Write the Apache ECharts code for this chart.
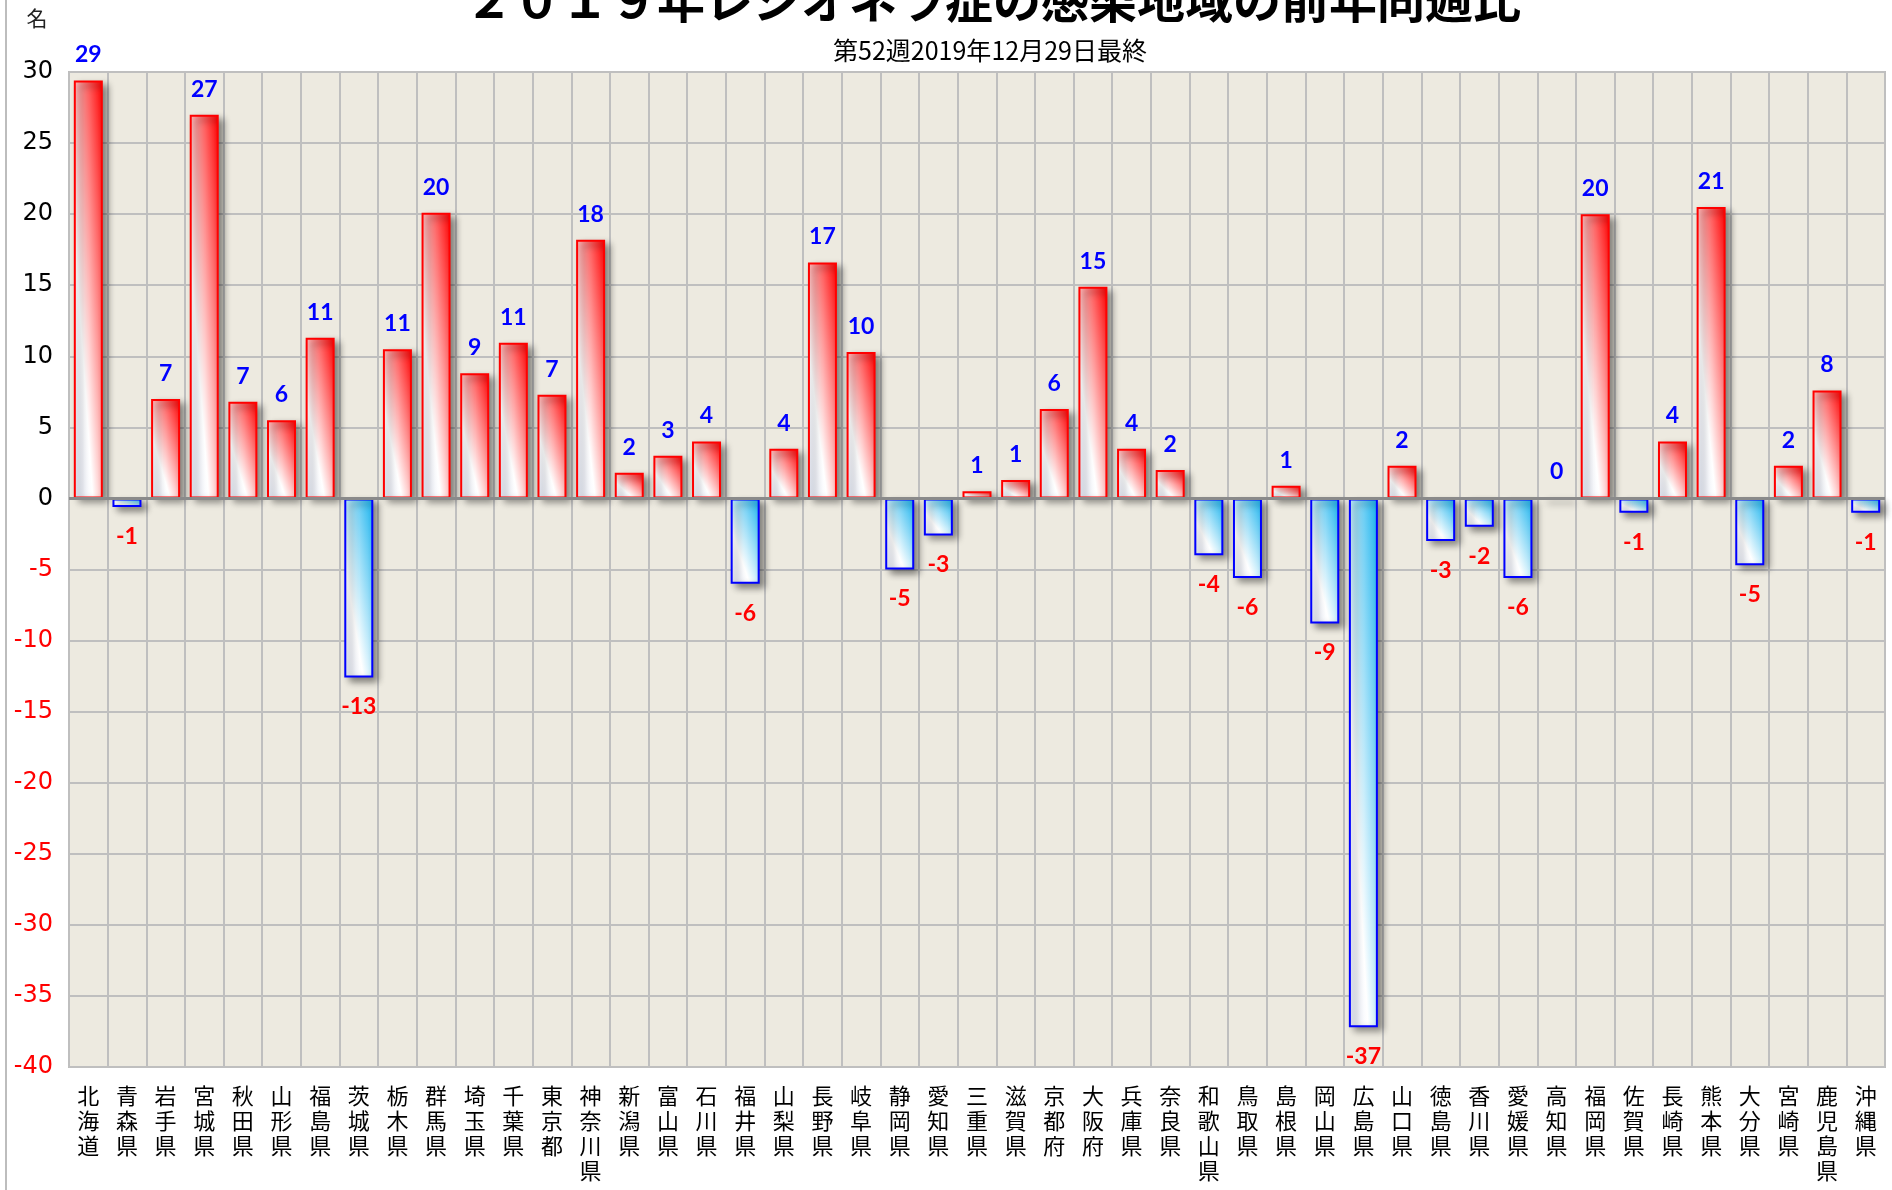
<!DOCTYPE html>
<html>
<head>
<meta charset="utf-8">
<script src="https://cdn.jsdelivr.net/npm/echarts@6/dist/echarts.min.js"></script>
<style>
    html, body { margin: 0; padding: 0; background: #fff; }
    #chart { width: 1892px; height: 1190px; }
</style>
</head>
<body>
<div id="chart"></div>
<script>
var titleText = '２０１９年レジオネラ症の感染地域の前年同週比';
var subText = '第52週2019年12月29日最終';

var prefectures = ['北海道', '青森県', '岩手県', '宮城県', '秋田県', '山形県', '福島県', '茨城県',
    '栃木県', '群馬県', '埼玉県', '千葉県', '東京都', '神奈川県', '新潟県', '富山県', '石川県',
    '福井県', '山梨県', '長野県', '岐阜県', '静岡県', '愛知県', '三重県', '滋賀県', '京都府',
    '大阪府', '兵庫県', '奈良県', '和歌山県', '鳥取県', '島根県', '岡山県', '広島県', '山口県',
    '徳島県', '香川県', '愛媛県', '高知県', '福岡県', '佐賀県', '長崎県', '熊本県', '大分県',
    '宮崎県', '鹿児島県', '沖縄県'];

// 前年同週との差 (名)
var diffValues = [29.4, -0.6, 7.0, 27.0, 6.8, 5.5, 11.3, -12.6,
    10.5, 20.1, 8.8, 10.95, 7.3, 18.2, 1.8, 3.0, 4.0,
    -6.0, 3.5, 16.6, 10.3, -5.0, -2.6, 0.5, 1.3, 6.3,
    14.9, 3.5, 2.0, -4.0, -5.6, 0.9, -8.8, -37.2, 2.3,
    -3.0, -2.0, -5.6, 0, 20.0, -1.0, 4.0, 20.5, -4.7,
    2.3, 7.6, -1.0];

var yMin = -40;
var yMax = 30;
var yStep = 5;

var gridTop = 72;
var gridBottom = 123;
var barW = 29;
var pxPerUnit = (1190 - gridTop - gridBottom) / (yMax - yMin);

// diagonal gradient that stretches with the bar, like the spreadsheet fill
function barFill(v, color) {
    var h = Math.abs(v) * pxPerUnit;
    var x2 = 1, y2 = 0;
    if (h > 0) {
        x2 = 2 * h * h / (h * h + barW * barW);
        y2 = 1 - 2 * barW * barW / (h * h + barW * barW);
    }
    return new echarts.graphic.LinearGradient(0, 1, x2, y2, [
        { offset: 0, color: '#e4e9f8' },
        { offset: 0.33, color: '#ffffff' },
        { offset: 1, color: color }
    ]);
}

function buildData() {
    return diffValues.map(function (v) {
        var pos = v >= 0;
        return {
            value: v,
            itemStyle: {
                color: barFill(v, pos ? '#ff0000' : '#16b2ee'),
                borderColor: pos ? '#ff0000' : '#0000ff',
                borderWidth: 2
            },
            label: {
                color: pos ? '#0000ff' : '#ff0000',
                position: pos ? 'top' : 'bottom',
                distance: pos ? 14 : 18
            }
        };
    });
}

function setBarOption() {
    return {
        animation: false,
        backgroundColor: '#ffffff',
        graphic: [
            {
                type: 'line',
                shape: { x1: 6, y1: 0, x2: 6, y2: 1190 },
                style: { stroke: '#bdbdbd', lineWidth: 2 }
            },
            {
                type: 'text',
                x: 993,
                y: 0,
                style: {
                    text: titleText,
                    font: 'bold 48px "Noto Sans CJK JP"',
                    fill: '#000',
                    align: 'center', verticalAlign: 'middle',
                    textAlign: 'center', textVerticalAlign: 'middle'
                }
            },
            {
                type: 'text',
                x: 990,
                y: 50,
                style: {
                    text: subText,
                    font: '25px "Noto Sans CJK JP"',
                    fill: '#000',
                    align: 'center', verticalAlign: 'middle',
                    textAlign: 'center', textVerticalAlign: 'middle'
                }
            },
            {
                type: 'text',
                x: 37,
                y: 18,
                style: {
                    text: '名',
                    font: '21px "Noto Sans CJK JP"',
                    fill: '#222',
                    align: 'center', verticalAlign: 'middle',
                    textAlign: 'center', textVerticalAlign: 'middle'
                }
            }
        ],
        grid: {
            left: 69,
            right: 7,
            top: gridTop,
            bottom: gridBottom,
            show: true,
            backgroundColor: '#edeae0',
            borderColor: '#bcbcbc',
            borderWidth: 2
        },
        xAxis: {
            type: 'category',
            data: prefectures,
            axisLine: { show: false, onZero: false },
            axisTick: { show: false },
            splitLine: {
                show: true,
                interval: 0,
                lineStyle: { color: '#bfbfbf', width: 2 }
            },
            axisLabel: {
                interval: 0,
                margin: 16,
                color: '#000',
                fontFamily: 'Noto Sans CJK JP',
                fontSize: 22,
                lineHeight: 25,
                verticalAlign: 'top',
                formatter: function (name) {
                    return name.split('').join('\n');
                }
            }
        },
        yAxis: {
            type: 'value',
            min: yMin,
            max: yMax,
            interval: yStep,
            axisLine: { show: false },
            axisTick: { show: false },
            splitLine: {
                lineStyle: { color: '#bfbfbf', width: 2 }
            },
            axisLabel: {
                margin: 16,
                fontFamily: 'DejaVu Sans',
                fontSize: 24,
                color: function (v) {
                    return Number(v) < 0 ? '#ff0000' : '#000000';
                }
            }
        },
        series: [
            {
                type: 'bar',
                barWidth: barW,
                data: buildData(),
                itemStyle: {
                    shadowBlur: 7,
                    shadowOffsetX: 5,
                    shadowOffsetY: 4,
                    shadowColor: 'rgba(0, 0, 0, 0.45)'
                },
                label: {
                    show: true,
                    fontFamily: 'Lato',
                    fontWeight: 'bold',
                    fontSize: 23,
                    formatter: function (p) {
                        return String(Math.round(p.value));
                    }
                },
                markLine: {
                    silent: true,
                    symbol: 'none',
                    label: { show: false },
                    lineStyle: { color: '#8a8a8a', width: 3, type: 'solid' },
                    data: [{ yAxis: 0 }]
                }
            }
        ]
    };
}

let myChart = echarts.init(document.getElementById('chart'));
myChart.setOption(setBarOption());
</script>
</body>
</html>
